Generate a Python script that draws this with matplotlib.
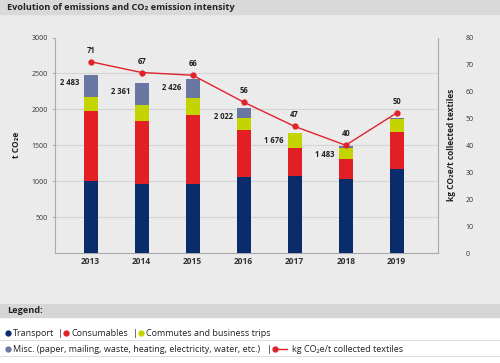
import matplotlib.pyplot as plt
from matplotlib.lines import Line2D
from matplotlib.patches import Rectangle

plt.rcParams['font.family'] = ['Open Sans', 'DejaVu Sans']

years = ['2013', '2014', '2015', '2016', '2017', '2018', '2019']
transport = [1000, 960, 960, 1054, 1072, 1030, 1170]
consumables = [970, 877, 957, 658, 385, 278, 510]
commutes = [205, 223, 245, 172, 209, 149, 187]
misc = [308, 301, 264, 138, 10, 26, 8]
total_labels = ['2 483', '2 361', '2 426', '2 022', '1 676', '1 483', '']
intensity = [71, 67, 66, 56, 47, 40, 52]
intensity_labels = ['71', '67', '66', '56', '47', '40', '50']

c_transport = '#0b2c6b'
c_cons = '#e31f26'
c_comm = '#c4d400'
c_misc = '#6b77a3'
c_line = '#e0222b'
bg = '#ebebeb'

fig = plt.figure(figsize=(5, 3.63), dpi=100)
fig.patch.set_facecolor(bg)

# header / legend bands
fig.add_artist(Rectangle((0, 1 - 13.5 / 363), 1, 13.5 / 363, transform=fig.transFigure,
                         color='#d9d9d9', zorder=0))
fig.add_artist(Rectangle((0, 0), 1, 59 / 363, transform=fig.transFigure,
                         color='white', zorder=0))
fig.add_artist(Rectangle((0, 46 / 363), 1, 13 / 363, transform=fig.transFigure,
                         color='#d6d6d6', zorder=0))
for yy in [23, 7]:
    fig.add_artist(Line2D([0, 1], [yy / 363, yy / 363], transform=fig.transFigure,
                          color='#dddddd', lw=0.8))

fig.text(7 / 500, 1 - 7 / 363, 'Evolution of emissions and CO₂ emission intensity',
         fontsize=6.6, fontweight='bold', va='center', color='#222222')
fig.text(7 / 500, 52.5 / 363, 'Legend:', fontsize=6.6, fontweight='bold', va='center',
         color='#222222')

ax = fig.add_axes([55 / 500, 110 / 363, 383 / 500, 215.5 / 363])
ax.set_facecolor(bg)
x = list(range(len(years)))
w = 0.27
b1 = transport
b2 = [a + b for a, b in zip(b1, consumables)]
b3 = [a + b for a, b in zip(b2, commutes)]
ax.bar(x, transport, w, color=c_transport, zorder=3)
ax.bar(x, consumables, w, bottom=b1, color=c_cons, zorder=3)
ax.bar(x, commutes, w, bottom=b2, color=c_comm, zorder=3)
ax.bar(x, misc, w, bottom=b3, color=c_misc, zorder=3)
tops = [a + b for a, b in zip(b3, misc)]
for i, lab in enumerate(total_labels):
    if lab:
        ax.annotate(lab, (i - w / 2, tops[i]), xytext=(-3, -6), textcoords='offset points',
                    ha='right', va='center', fontsize=5.5, fontweight='bold', color='#222222')

ax.set_xlim(-0.7, 6.81)
ax.set_ylim(0, 3000)
ax.set_yticks([500, 1000, 1500, 2000, 2500, 3000])
for g in [500, 1000, 1500, 2000, 2500]:
    ax.axhline(g, color='#d4d4d4', lw=0.8, zorder=0)
ax.set_xticks(x)
ax.set_xticklabels(years, fontsize=6, fontweight='bold', color='#333333')
ax.tick_params(axis='y', labelsize=5, colors='#333333', length=2, width=0.6, pad=3)
ax.tick_params(axis='y', color='#aaaaaa')
ax.tick_params(axis='x', length=0, pad=3)
for s in ['left', 'bottom', 'right']:
    ax.spines[s].set_color('#aaaaaa')
    ax.spines[s].set_linewidth(0.8)
ax.spines['top'].set_visible(False)
ax.set_ylabel('t CO₂e', fontsize=6, fontweight='bold', color='#222222', labelpad=8)

ax2 = ax.twinx()
ax2.plot(x, intensity, color=c_line, marker='o', markersize=3.5, lw=1, zorder=5)
for i, lab in enumerate(intensity_labels):
    ax2.annotate(lab, (i, intensity[i]), xytext=(0, 5), textcoords='offset points',
                 ha='center', va='bottom', fontsize=5.5, fontweight='bold', color='#222222')
ax2.set_ylim(0, 80)
ax2.set_yticks(range(0, 81, 10))
ax2.tick_params(axis='y', labelsize=5, colors='#333333', length=0, pad=20)
for s in ax2.spines.values():
    s.set_visible(False)
fig.text(451 / 500, 1 - 145 / 363, 'kg CO₂e/t collected textiles', rotation=90,
         ha='center', va='center', fontsize=6, fontweight='bold', color='#222222')

# legend rows
def dot(xp, yp, color):
    fig.add_artist(Line2D([xp / 500], [yp / 363], transform=fig.transFigure, marker='o',
                          markersize=3.5, color=color, lw=0))

def txt(xp, yp, s):
    fig.text(xp / 500, yp / 363, s, fontsize=6.45, va='center', color='#222222')

r1 = 363 - 333
r2 = 363 - 349
dot(8, r1, c_transport)
txt(13, r1, 'Transport')
txt(58, r1, '|')
dot(66, r1, c_cons)
txt(71, r1, 'Consumables')
txt(133, r1, '|')
dot(141, r1, c_comm)
txt(146, r1, 'Commutes and business trips')
dot(8, r2, c_misc)
txt(13, r2, 'Misc. (paper, mailing, waste, heating, electricity, water, etc.)')
txt(267, r2, '|')
fig.add_artist(Line2D([274 / 500, 287 / 500], [r2 / 363, r2 / 363], transform=fig.transFigure,
                      color=c_line, lw=1))
dot(275, r2, c_line)
txt(292, r2, 'kg CO₂e/t collected textiles')

fig.savefig('out.png', dpi=100, facecolor=fig.get_facecolor())
